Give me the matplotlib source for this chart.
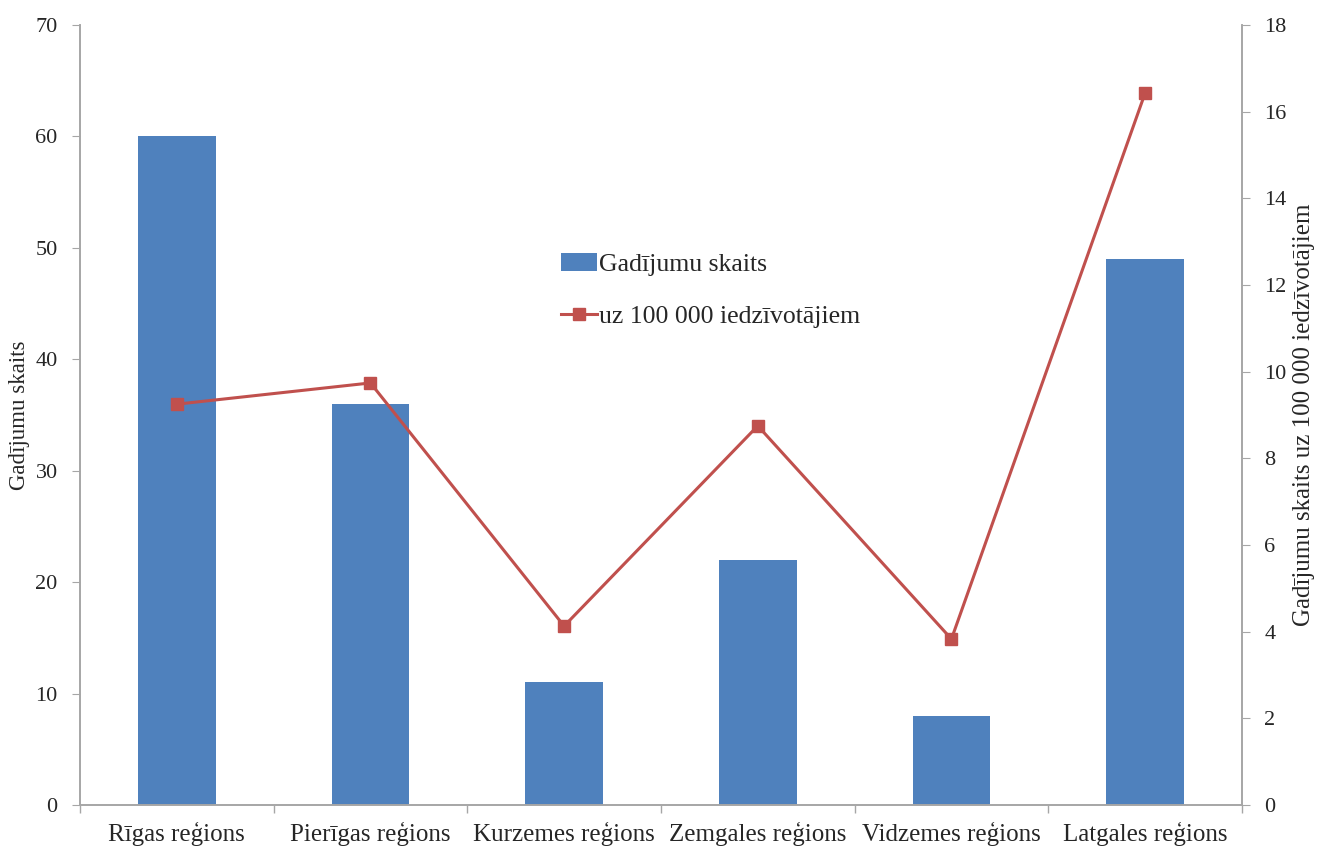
import numpy as np
import matplotlib.pyplot as plt
from matplotlib.ticker import FixedLocator, NullFormatter

regions = ['Rīgas reģions', 'Pierīgas reģions', 'Kurzemes reģions',
           'Zemgales reģions', 'Vidzemes reģions', 'Latgales reģions']
cases = [60, 36, 11, 22, 8, 49]
per_100k = [9.25, 9.74, 4.13, 8.75, 3.83, 16.43]

bar_color = '#4F81BD'
line_color = '#C0504D'
axis_color = '#A6A6A6'
text_color = '#262626'

plt.rcParams['font.family'] = ['Liberation Serif', 'DejaVu Serif']

fig = plt.figure(figsize=(13.28, 8.48), dpi=100)
ax = fig.add_axes([0.0602, 0.0507, 0.875, 0.9198])
ax2 = ax.twinx()

x = np.arange(len(regions))
bars = ax.bar(x, cases, width=0.4, color=bar_color, zorder=2,
              label='Gadījumu skaits')
line, = ax2.plot(x, per_100k, color=line_color, lw=2.2, marker='s',
                 markersize=9, zorder=3, label='uz 100 000 iedzīvotājiem')

ax.set_xlim(-0.5, len(regions) - 0.5)
ax.set_ylim(0, 70)
ax2.set_ylim(0, 18)
ax.set_yticks(np.arange(0, 71, 10))
ax2.set_yticks(np.arange(0, 19, 2))

# category labels centred, tick marks between categories
ax.set_xticks(x)
ax.set_xticklabels(regions, fontsize=18, color=text_color)
ax.tick_params(axis='x', which='major', length=0, pad=12)
ax.xaxis.set_minor_locator(FixedLocator(np.arange(-0.5, len(regions), 1.0)))
ax.xaxis.set_minor_formatter(NullFormatter())
ax.tick_params(axis='x', which='minor', length=6, color=axis_color, width=1)

ax.tick_params(axis='y', length=6, color=axis_color, labelsize=16,
               labelcolor=text_color, pad=10)
ax2.tick_params(axis='y', length=6, color=axis_color, labelsize=16,
                labelcolor=text_color, pad=10)

for a in (ax, ax2):
    a.spines['top'].set_visible(False)
    for s in ('left', 'right', 'bottom'):
        a.spines[s].set_color(axis_color)
        a.spines[s].set_linewidth(1.2)

ax.set_ylabel('Gadījumu skaits', fontsize=16.5, color=text_color, labelpad=4)
ax2.set_ylabel('Gadījumu skaits uz 100 000 iedzīvotājiem', fontsize=18,
               color=text_color, labelpad=5)

ax.set_zorder(ax2.get_zorder() - 1)
ax2.patch.set_visible(False)

leg = ax2.legend([bars, line], ['Gadījumu skaits', 'uz 100 000 iedzīvotājiem'],
                 loc='upper left', bbox_to_anchor=(0.394, 0.737), frameon=False,
                 fontsize=18.5, handlelength=1.4, handletextpad=0.1,
                 labelspacing=1.1)
for t in leg.get_texts():
    t.set_color(text_color)

fig.savefig('out.png', dpi=100)
